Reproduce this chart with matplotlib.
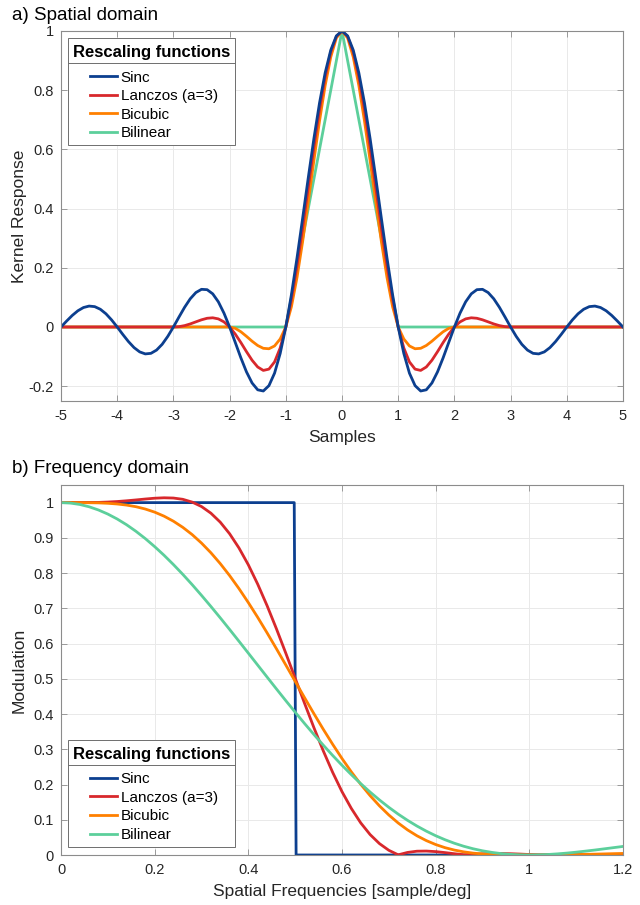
import numpy as np
import matplotlib
matplotlib.use("Agg")
import matplotlib.pyplot as plt
from matplotlib.lines import Line2D
from matplotlib.offsetbox import DrawingArea
from matplotlib.ticker import FormatStrFormatter

plt.rcParams['font.family'] = ['Liberation Sans', 'DejaVu Sans']
plt.rcParams['axes.unicode_minus'] = False

names = ['Sinc', 'Lanczos (a=3)', 'Bicubic', 'Bilinear']
colors = ['#0c3f8f', '#d8282c', '#ff8000', '#5ccf9b']

# kernels sampled every 0.1 sample from -5 to 5
x_samples = np.linspace(-5, 5, 101)

sinc_kernel = [
    0.0000, 0.0201, 0.0390, 0.0548, 0.0658, 0.0707, 0.0688, 0.0599, 0.0446, 0.0240,
    0.0000, -0.0252, -0.0492, -0.0696, -0.0841, -0.0909, -0.0890, -0.0780, -0.0585, -0.0317,
    0.0000, 0.0339, 0.0668, 0.0954, 0.1164, 0.1273, 0.1261, 0.1120, 0.0850, 0.0468,
    0.0000, -0.0518, -0.1039, -0.1515, -0.1892, -0.2122, -0.2162, -0.1981, -0.1559, -0.0894,
    0.0000, 0.1093, 0.2339, 0.3679, 0.5046, 0.6366, 0.7568, 0.8584, 0.9355, 0.9836,
    1.0000,
    0.9836, 0.9355, 0.8584, 0.7568, 0.6366, 0.5046, 0.3679, 0.2339, 0.1093, 0.0000,
    -0.0894, -0.1559, -0.1981, -0.2162, -0.2122, -0.1892, -0.1515, -0.1039, -0.0518, 0.0000,
    0.0468, 0.0850, 0.1120, 0.1261, 0.1273, 0.1164, 0.0954, 0.0668, 0.0339, 0.0000,
    -0.0317, -0.0585, -0.0780, -0.0890, -0.0909, -0.0841, -0.0696, -0.0492, -0.0252, 0.0000,
    0.0240, 0.0446, 0.0599, 0.0688, 0.0707, 0.0658, 0.0548, 0.0390, 0.0201, 0.0000,
]

lanczos_kernel = [0.0] * 20 + [
    0.0000, 0.0012, 0.0047, 0.0104, 0.0174, 0.0243, 0.0295, 0.0311, 0.0274, 0.0172,
    0.0000, -0.0238, -0.0524, -0.0832, -0.1123, -0.1351, -0.1467, -0.1423, -0.1180, -0.0709,
    0.0000, 0.0938, 0.2075, 0.3358, 0.4720, 0.6079, 0.7349, 0.8443, 0.9287, 0.9818,
    1.0000,
    0.9818, 0.9287, 0.8443, 0.7349, 0.6079, 0.4720, 0.3358, 0.2075, 0.0938, 0.0000,
    -0.0709, -0.1180, -0.1423, -0.1467, -0.1351, -0.1123, -0.0832, -0.0524, -0.0238, 0.0000,
    0.0172, 0.0274, 0.0311, 0.0295, 0.0243, 0.0174, 0.0104, 0.0047, 0.0012, 0.0000,
] + [0.0] * 20

bicubic_kernel = [0.0] * 30 + [
    0.0000, -0.0045, -0.0160, -0.0315, -0.0480, -0.0625, -0.0720, -0.0735, -0.0640, -0.0405,
    0.0000, 0.0685, 0.1680, 0.2895, 0.4240, 0.5625, 0.6960, 0.8155, 0.9120, 0.9765,
    1.0000,
    0.9765, 0.9120, 0.8155, 0.6960, 0.5625, 0.4240, 0.2895, 0.1680, 0.0685, 0.0000,
    -0.0405, -0.0640, -0.0735, -0.0720, -0.0625, -0.0480, -0.0315, -0.0160, -0.0045, 0.0000,
] + [0.0] * 30

bilinear_kernel = [0.0] * 40 + [
    0.0, 0.1, 0.2, 0.3, 0.4, 0.5, 0.6, 0.7, 0.8, 0.9,
    1.0,
    0.9, 0.8, 0.7, 0.6, 0.5, 0.4, 0.3, 0.2, 0.1, 0.0,
] + [0.0] * 40

# modulation transfer, sampled every 0.02 from 0 to 1.2
freq = np.linspace(0, 1.2, 61)

sinc_freq = [0.0, 0.498, 0.502, 1.2]
sinc_mtf = [1.0, 1.0, 0.0, 0.0]

lanczos_mtf = [
    1.0000, 1.0002, 1.0002, 1.0003, 1.0006, 1.0016, 1.0031, 1.0052, 1.0076, 1.0102,
    1.0125, 1.0137, 1.0130, 1.0094, 1.0015, 0.9889, 0.9701, 0.9446, 0.9117, 0.8713,
    0.8235, 0.7686, 0.7077, 0.6419, 0.5727, 0.5017, 0.4307, 0.3615, 0.2956, 0.2347,
    0.1797, 0.1320, 0.0911, 0.0580, 0.0323, 0.0133, 0.0005, 0.0073, 0.0108, 0.0112,
    0.0096, 0.0068, 0.0036, 0.0007, 0.0018, 0.0034, 0.0042, 0.0042, 0.0036, 0.0026,
    0.0014, 0.0001, 0.0009, 0.0017, 0.0019, 0.0021, 0.0019, 0.0015, 0.0009, 0.0003,
    0.0004,
]

bicubic_mtf = [
    1.0000, 1.0000, 1.0000, 0.9997, 0.9993, 0.9981, 0.9961, 0.9930, 0.9884, 0.9818,
    0.9730, 0.9616, 0.9473, 0.9299, 0.9093, 0.8852, 0.8578, 0.8270, 0.7930, 0.7560,
    0.7163, 0.6744, 0.6305, 0.5853, 0.5392, 0.4928, 0.4466, 0.4011, 0.3568, 0.3143,
    0.2738, 0.2358, 0.2007, 0.1685, 0.1394, 0.1135, 0.0908, 0.0712, 0.0546, 0.0409,
    0.0297, 0.0208, 0.0140, 0.0089, 0.0053, 0.0029, 0.0014, 0.0006, 0.0002, 0.0000,
    0.0000, 0.0000, 0.0001, 0.0003, 0.0007, 0.0012, 0.0018, 0.0024, 0.0031, 0.0038,
    0.0044,
]

bilinear_mtf = [
    1.0000, 0.9987, 0.9948, 0.9882, 0.9791, 0.9675, 0.9535, 0.9372, 0.9186, 0.8979,
    0.8751, 0.8506, 0.8243, 0.7965, 0.7673, 0.7368, 0.7054, 0.6731, 0.6401, 0.6066,
    0.5728, 0.5389, 0.5050, 0.4713, 0.4380, 0.4053, 0.3732, 0.3420, 0.3118, 0.2826,
    0.2546, 0.2279, 0.2025, 0.1786, 0.1562, 0.1353, 0.1160, 0.0983, 0.0822, 0.0677,
    0.0547, 0.0433, 0.0333, 0.0248, 0.0177, 0.0119, 0.0074, 0.0040, 0.0017, 0.0004,
    0.0000, 0.0004, 0.0015, 0.0032, 0.0054, 0.0080, 0.0110, 0.0141, 0.0175, 0.0209,
    0.0243,
]

W, H = 640, 905
fig = plt.figure(figsize=(W / 100, H / 100), dpi=100)
ax1 = fig.add_axes([61 / W, 1 - 401 / H, 562 / W, 370 / H])
ax2 = fig.add_axes([61 / W, 1 - 855 / H, 562 / W, 370 / H])

lw = 2.0

# spatial domain: sinc drawn last so it sits on top
kernels = [sinc_kernel, lanczos_kernel, bicubic_kernel, bilinear_kernel]
lines1 = {}
for name, col, k in reversed(list(zip(names, colors, kernels))):
    lines1[name], = ax1.plot(x_samples, k, color=col, lw=lw)

# frequency domain
lines2 = {}
lines2['Sinc'], = ax2.plot(sinc_freq, sinc_mtf, color=colors[0], lw=lw)
for name, col, m in zip(names[1:], colors[1:], [lanczos_mtf, bicubic_mtf, bilinear_mtf]):
    lines2[name], = ax2.plot(freq, m, color=col, lw=lw)


def style(ax):
    ax.grid(True, color='#e9e9e9', lw=0.7)
    ax.set_axisbelow(True)
    for s in ax.spines.values():
        s.set_color('#8c8c8c')
        s.set_linewidth(0.8)
    ax.tick_params(direction='in', length=4, width=0.6, color='#8c8c8c',
                   top=True, right=True, labelsize=10.5, labelcolor='#262626')
    ax.tick_params(axis='x', pad=6)
    ax.tick_params(axis='y', pad=5)
    ax.xaxis.set_major_formatter(FormatStrFormatter('%g'))
    ax.yaxis.set_major_formatter(FormatStrFormatter('%g'))


ax1.set_xlim(-5, 5)
ax1.set_ylim(-0.25, 1)
ax1.set_xticks(range(-5, 6))
ax1.set_yticks([-0.2, 0, 0.2, 0.4, 0.6, 0.8, 1.0])
style(ax1)
ax1.set_xlabel('Samples', fontsize=12.5, color='#262626', labelpad=4.5)
ax1.set_ylabel('Kernel Response', fontsize=12.5, color='#262626')
ax1.yaxis.set_label_coords(-34 / 562, 0.5)

ax2.set_xlim(0, 1.2)
ax2.set_ylim(0, 1.05)
ax2.set_xticks([0, 0.2, 0.4, 0.6, 0.8, 1.0, 1.2])
ax2.set_yticks(np.round(np.arange(0, 1.01, 0.1), 1))
style(ax2)
ax2.set_xlabel('Spatial Frequencies [sample/deg]', fontsize=12.5, color='#262626', labelpad=4.5)
ax2.set_ylabel('Modulation', fontsize=12.5, color='#262626')
ax2.yaxis.set_label_coords(-34 / 562, 0.5)

fig.text(12 / W, 1 - 15 / H, 'a) Spatial domain', fontsize=13.5, va='center', ha='left')
fig.text(12 / W, 1 - 468 / H, 'b) Frequency domain', fontsize=13.5, va='center', ha='left')


def add_legend(ax, lines, loc, anchor):
    leg = ax.legend(handles=[lines[n] for n in names], labels=names,
                    title='Rescaling functions', loc=loc, bbox_to_anchor=anchor,
                    borderaxespad=0, fontsize=11,
                    title_fontproperties={'weight': 'bold', 'size': 12},
                    fancybox=False, edgecolor='#6e6e6e', framealpha=1,
                    handlelength=1.75, handletextpad=0.25, labelspacing=0.3,
                    borderpad=0.33)
    leg.get_frame().set_linewidth(0.7)
    # indent the entries below the title
    for col in leg._legend_handle_box.get_children():
        for item in col.get_children():
            item._children.insert(0, DrawingArea(9.5, 1))
    # room above the title and between title and entries
    box = leg._legend_box
    box._children = [DrawingArea(1, 1.5), leg._legend_title_box,
                     DrawingArea(1, 7.5), leg._legend_handle_box]
    box.sep = 0
    box.align = 'left'
    return leg


leg1 = add_legend(ax1, lines1, 'upper left', (7 / 562, 1 - 7 / 370))
leg2 = add_legend(ax2, lines2, 'lower left', (7 / 562, 8 / 370))

# separator line under each legend title
fig.canvas.draw()
for leg in (leg1, leg2):
    fb = leg.get_frame().get_window_extent()
    tb = leg.get_title().get_window_extent()
    y = (tb.y0 - 3) / fig.bbox.height
    fig.add_artist(Line2D([fb.x0 / fig.bbox.width, fb.x1 / fig.bbox.width], [y, y],
                          color='#6e6e6e', lw=0.7))

fig.savefig('out.png', dpi=100)
